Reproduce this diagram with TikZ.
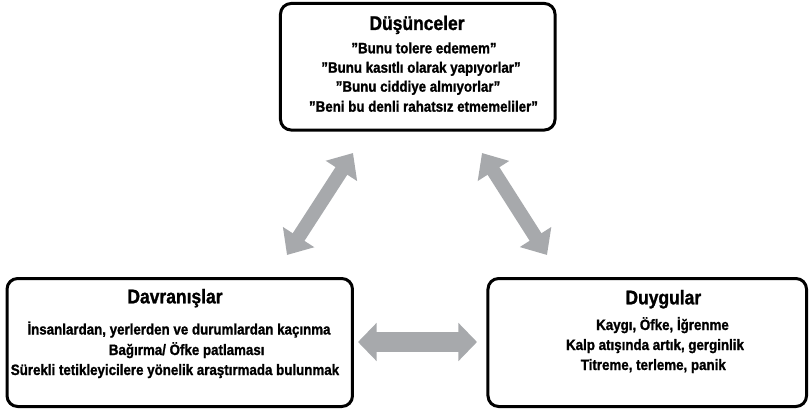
\documentclass[tikz,border=0pt]{standalone}
\usepackage{fontspec}
\setmainfont{Liberation Sans}[FakeStretch=0.885, BoldFeatures={FakeBold=1.2}]
\usepackage{xcolor}
\definecolor{linkgray}{RGB}{167,169,172}
\usetikzlibrary{arrows.meta}

\tikzset{
  box/.style={draw=black, line width=2.25pt, rounded corners=8pt, inner sep=0pt, outer sep=0pt},
  boxtitle/.style={font=\fontsize{14.8}{16}\selectfont\bfseries, anchor=base, inner sep=0pt},
  boxitem/.style={font=\fontsize{11.3}{13}\selectfont\bfseries, anchor=base, inner sep=0pt},
  slantlink/.style={draw=linkgray, line width=10.5pt,
    {Triangle[width=27pt,length=16pt]}-{Triangle[width=27pt,length=16pt]}},
  flatlink/.style={draw=linkgray, line width=15pt,
    {Triangle[width=28pt,length=14pt]}-{Triangle[width=28pt,length=14pt]}}
}

\begin{document}
\begin{tikzpicture}[x=0.75pt, y=-0.75pt]
  \useasboundingbox (0,0) rectangle (812,409);

  % Boxes
  \node[box, minimum width=205.9pt, minimum height=94.9pt] (dus) at (417.75,66.75) {};
  \node[box, minimum width=259.1pt, minimum height=96pt] (dav) at (179.75,342.5) {};
  \node[box, minimum width=238.9pt, minimum height=96pt] (duy) at (647.25,342.5) {};

  % Dusunceler
  \node[boxtitle] (dus-t) at (417,30) {Düşünceler};
  \node[boxitem] (dus-1) at (424,53.3) {''Bunu tolere edemem''};
  \node[boxitem] (dus-2) at (421,72.7) {''Bunu kasıtlı olarak yapıyorlar''};
  \node[boxitem] (dus-3) at (418,91.7) {''Bunu ciddiye almıyorlar''};
  \node[boxitem] (dus-4) at (423.5,111.7) {''Beni bu denli rahatsız etmemeliler''};

  % Davranislar
  \node[boxtitle] (dav-t) at (175,303.3) {Davranışlar};
  \node[boxitem] (dav-1) at (179,334.5) {İnsanlardan, yerlerden ve durumlardan kaçınma};
  \node[boxitem] (dav-2) at (186.7,355) {Bağırma/ Öfke patlaması};
  \node[boxitem] (dav-3) at (175,375) {Sürekli tetikleyicilere yönelik araştırmada bulunmak};

  % Duygular
  \node[boxtitle] (duy-t) at (663.3,304.3) {Duygular};
  \node[boxitem] (duy-1) at (662.5,330) {Kaygı, Öfke, İğrenme};
  \node[boxitem] (duy-2) at (655,350) {Kalp atışında artık, gerginlik};
  \node[boxitem] (duy-3) at (653.3,370) {Titreme, terleme, panik};

  % Links
  \coordinate (l-a) at (287,255);
  \coordinate (l-b) at (353,153);
  \coordinate (r-a) at (482,153);
  \coordinate (r-b) at (547,255);
  \coordinate (m-a) at (358,342);
  \coordinate (m-b) at (477,342);
  \draw[slantlink] (l-a) -- (l-b);
  \draw[slantlink] (r-a) -- (r-b);
  \draw[flatlink] (m-a) -- (m-b);
\end{tikzpicture}
\end{document}
